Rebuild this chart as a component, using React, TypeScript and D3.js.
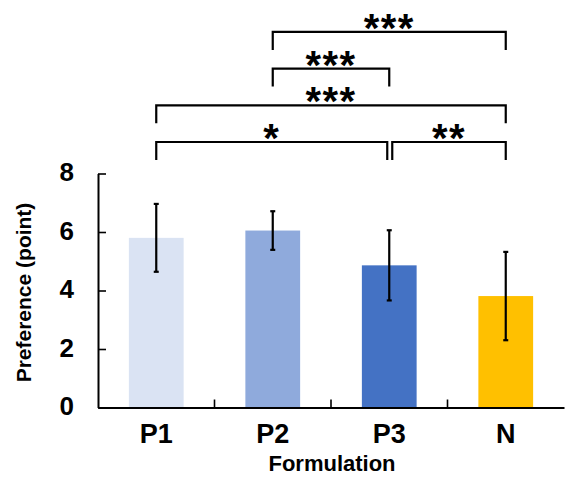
import React, { useEffect, useRef } from 'react'
import * as d3 from 'd3'

// mean preference and SD per formulation
const categories = ['P1', 'P2', 'P3', 'N']
const means = [5.8, 6.05, 4.86, 3.81]
const sds = [1.16, 0.66, 1.2, 1.51]
const colors = ['#DAE3F3', '#8FAADC', '#4472C4', '#FFC000']
const yTicks = [0, 2, 4, 6, 8]

// significance brackets: from, to, stacking level (0 = lowest), label
const sigFrom = ['P1', 'P3', 'P1', 'P2', 'P2']
const sigTo = ['P3', 'N', 'N', 'P3', 'N']
const sigLevel = [0, 0, 1, 2, 3]
const sigLabel = ['*', '**', '***', '***', '***']

const W = 566
const H = 482
const FONT = '"Liberation Sans", Arial, sans-serif'

export default function App () {
  const ref = useRef<SVGSVGElement>(null)

  useEffect(() => {
    const svg = d3.select(ref.current)
    svg.selectAll('*').remove()

    const x = d3.scaleBand().domain(categories).range([98, 564]).padding(0)
    const y = d3.scaleLinear().domain([0, 8]).range([407.5, 173.5])
    const barW = x.bandwidth() * 0.47
    const cx = (c: string) => (x(c) as number) + x.bandwidth() / 2

    // bars
    svg.append('g').selectAll('rect')
      .data(categories)
      .enter().append('rect')
      .attr('x', (d) => cx(d) - barW / 2)
      .attr('y', (d, i) => y(means[i]))
      .attr('width', barW)
      .attr('height', (d, i) => y(0) - y(means[i]))
      .attr('fill', (d, i) => colors[i])

    // error bars
    const err = svg.append('g').attr('stroke', '#000').attr('stroke-width', 2.2)
    categories.forEach((c, i) => {
      const top = y(means[i] + sds[i])
      const bot = y(means[i] - sds[i])
      err.append('line').attr('x1', cx(c)).attr('x2', cx(c)).attr('y1', top).attr('y2', bot)
      err.append('line').attr('x1', cx(c) - 2.5).attr('x2', cx(c) + 2.5).attr('y1', top).attr('y2', top)
      err.append('line').attr('x1', cx(c) - 2.5).attr('x2', cx(c) + 2.5).attr('y1', bot).attr('y2', bot)
    })

    // y axis, ticks pointing inward
    const yAxis = svg.append('g')
      .attr('transform', 'translate(98,0)')
      .call(d3.axisLeft(y).tickValues(yTicks).tickSize(-8).tickSizeOuter(0).tickPadding(24).tickFormat(d3.format('d')))
    yAxis.select('.domain').attr('stroke-width', 2)
    yAxis.selectAll('.tick line').attr('stroke-width', 1.6)
    yAxis.selectAll('text')
      .attr('dy', '0.27em')
      .attr('font-family', FONT).attr('font-weight', 'bold').attr('font-size', 26).attr('fill', '#000')

    // x axis, labels only
    const xAxis = svg.append('g')
      .attr('transform', 'translate(0,' + y(0) + ')')
      .call(d3.axisBottom(x).tickSize(0).tickSizeOuter(0).tickPadding(16))
    xAxis.select('.domain').attr('stroke-width', 2.2)
    xAxis.selectAll('text')
      .attr('font-family', FONT).attr('font-weight', 'bold').attr('font-size', 27).attr('fill', '#000')

    // separator ticks between categories
    svg.append('g').selectAll('line')
      .data(categories.slice(1))
      .enter().append('line')
      .attr('x1', (d) => x(d) as number).attr('x2', (d) => x(d) as number)
      .attr('y1', y(0)).attr('y2', y(0) - 8)
      .attr('stroke', '#000').attr('stroke-width', 1.6)

    // axis titles
    svg.append('text')
      .attr('x', 332).attr('y', 471)
      .attr('text-anchor', 'middle')
      .attr('font-family', FONT).attr('font-weight', 'bold').attr('font-size', 22)
      .text('Formulation')
    svg.append('text')
      .attr('transform', 'translate(31,' + (y(4) + 2) + ') rotate(-90)')
      .attr('text-anchor', 'middle')
      .attr('font-family', FONT).attr('font-weight', 'bold').attr('font-size', 21)
      .text('Preference (point)')

    // significance brackets
    const levelY = (l: number) => 142 - l * 36.7
    const sig = svg.append('g')
    sigLabel.forEach((lab, i) => {
      let x1 = cx(sigFrom[i])
      let x2 = cx(sigTo[i])
      // the two lowest brackets meet at P3 with a small gap
      if (sigLevel[i] === 0 && sigTo[i] === 'P3') x2 -= 2
      if (sigLevel[i] === 0 && sigFrom[i] === 'P3') x1 += 3
      const ly = levelY(sigLevel[i])
      sig.append('path')
        .attr('d', 'M' + x1 + ',' + (ly + 18) + 'V' + ly + 'H' + x2 + 'V' + (ly + 18))
        .attr('fill', 'none').attr('stroke', '#000').attr('stroke-width', 2.2)
      sig.append('text')
        .attr('x', (x1 + x2) / 2).attr('y', ly + 10)
        .attr('text-anchor', 'middle')
        .attr('font-family', FONT).attr('font-weight', 'bold').attr('font-size', 40)
        .attr('letter-spacing', 1.5)
        .text(lab)
    })
  }, [])

  return (
    <div style={{ position: 'absolute', left: 0, top: 0 }}>
      <svg ref={ref} width={W} height={H} style={{ display: 'block', background: '#fff' }} />
    </div>
  )
}
